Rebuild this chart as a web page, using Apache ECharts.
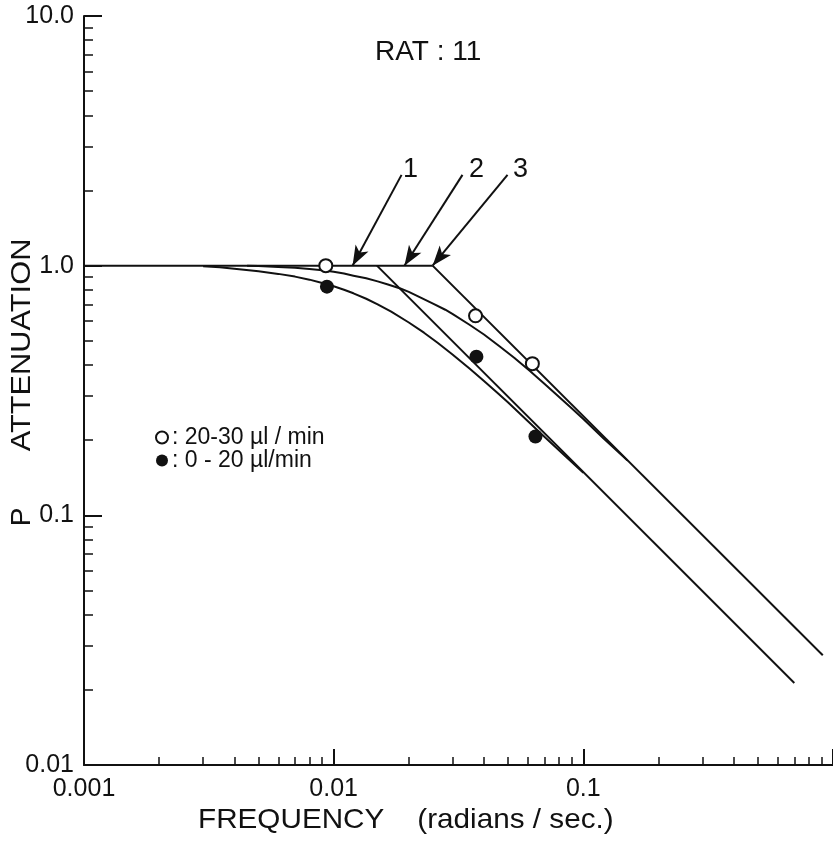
<!DOCTYPE html>
<html>
<head>
<meta charset="utf-8">
<title>RAT : 11 — P attenuation vs frequency</title>
<script src="https://cdn.jsdelivr.net/npm/echarts@6/dist/echarts.min.js"></script>
<style>
  html, body { margin: 0; padding: 0; background: #fff; }
  #chart { width: 833px; height: 844px; }
</style>
</head>
<body>
<div id="chart"></div>
<script>
// values (frequency in rad/s, P attenuation)
const openPoints = [[0.0093, 1.0], [0.037, 0.63], [0.0625, 0.405]]
const filledPoints = [[0.0094, 0.824], [0.0373, 0.432], [0.0643, 0.207]]

// flat part of the asymptotes and the two break lines (1, 2, 3 marks)
const flatLine = [[0.001, 1.0], [0.0249, 1.0]]
const breakLine2 = [[0.0149, 1.0], [0.70, 0.0213]]
const breakLine3 = [[0.0249, 1.0], [0.91, 0.0275]]

// fitted curves
const lowerCurve = [
  [0.003, 0.995], [0.0035, 0.985], [0.004, 0.972], [0.005, 0.949], [0.006, 0.927],
  [0.007, 0.904], [0.008, 0.879], [0.009, 0.853], [0.01, 0.827], [0.011, 0.801],
  [0.012, 0.775], [0.0135, 0.737], [0.015, 0.70], [0.017, 0.654], [0.02, 0.592],
  [0.023, 0.539], [0.026, 0.492], [0.03, 0.44], [0.035, 0.387], [0.04, 0.345],
  [0.045, 0.311], [0.05, 0.283], [0.06, 0.238], [0.07, 0.206], [0.085, 0.172], [0.1, 0.148]
]
const upperCurve = [
  [0.0045, 0.999], [0.005, 0.996], [0.006, 0.988], [0.007, 0.98], [0.008, 0.97],
  [0.009, 0.958], [0.01, 0.945], [0.011, 0.93], [0.012, 0.912], [0.0135, 0.89],
  [0.015, 0.865], [0.0165, 0.84], [0.0185, 0.81], [0.02, 0.785], [0.022, 0.75],
  [0.025, 0.705], [0.028, 0.666], [0.03, 0.64], [0.035, 0.58], [0.04, 0.53],
  [0.046, 0.477], [0.053, 0.427], [0.0608, 0.38], [0.07, 0.336], [0.08, 0.298],
  [0.09, 0.268], [0.1, 0.243], [0.12, 0.204], [0.15, 0.166]
]

// arrows: [start, tip] and their numbers
const arrows = [
  [[0.0187, 2.31], [0.0119, 1.0]],
  [[0.0328, 2.31], [0.0192, 1.0]],
  [[0.0497, 2.31], [0.0249, 1.0]]
]
const arrowLabels = [[0.0203, 2.42, '1'], [0.0373, 2.42, '2'], [0.056, 2.42, '3']]

// axis ticks
const xMajorTicks = [0.001, 0.01, 0.1, 1]
const yMajorTicks = [0.01, 0.1, 1, 10]
const yTickLabels = { '0.01': '0.01', '0.1': '0.1', '1': '1.0', '10': '10.0' }
const minorFactors = [2, 3, 4, 5, 6, 7, 8, 9]

const FONT = 'Liberation Sans'
const INK = '#111'

const minorOf = (majors) => {
  const out = []
  majors.slice(0, -1).forEach(m => minorFactors.forEach(f => out.push(+(m * f).toPrecision(3))))
  return out
}

const chart = echarts.init(document.getElementById('chart'))

const lineSeries = (name, data) => ({
  name,
  type: 'line',
  data,
  symbol: 'none',
  silent: true,
  lineStyle: { color: INK, width: 2, join: 'round' },
  z: 2
})

const logAxis = (min, max, extra) => Object.assign({
  type: 'log',
  logBase: 10,
  min,
  max,
  splitLine: { show: false },
  minorTick: { show: false },
  axisLine: { show: true, onZero: false, lineStyle: { color: INK, width: 2 } }
}, extra)

const option = {
  animation: false,
  backgroundColor: '#fff',
  textStyle: { fontFamily: FONT, color: INK },
  grid: { left: 84, right: 0, top: 16, bottom: 79, outerBoundsMode: 'none' },
  legend: {
    data: [': 20-30 µl / min', ': 0 - 20 µl/min'],
    orient: 'vertical',
    left: 150,
    top: 421,
    itemGap: 0,
    itemWidth: 14,
    itemHeight: 12,
    selectedMode: false,
    textStyle: { fontFamily: FONT, fontSize: 23, color: INK, padding: [0, 0, 0, -2] }
  },
  xAxis: [
    logAxis(0.001, 1, {
      axisTick: { inside: true, length: 16, customValues: xMajorTicks, lineStyle: { color: INK, width: 2 } },
      axisLabel: {
        customValues: xMajorTicks.slice(0, 3),
        margin: 12,
        fontFamily: FONT,
        fontSize: 25,
        color: INK,
        formatter: v => String(+v.toPrecision(3))
      }
    }),
    logAxis(0.001, 1, {
      position: 'bottom',
      axisLine: { show: false },
      axisTick: { inside: true, length: 8, customValues: minorOf(xMajorTicks), lineStyle: { color: INK, width: 1.5 } },
      axisLabel: { show: false }
    })
  ],
  yAxis: [
    logAxis(0.01, 10, {
      axisTick: { inside: true, length: 18, customValues: yMajorTicks, lineStyle: { color: INK, width: 2 } },
      axisLabel: {
        customValues: yMajorTicks,
        margin: 10,
        fontFamily: FONT,
        fontSize: 25,
        color: INK,
        formatter: v => yTickLabels[String(+v.toPrecision(3))] || ''
      }
    }),
    logAxis(0.01, 10, {
      position: 'left',
      axisLine: { show: false },
      axisTick: { inside: true, length: 9, customValues: minorOf(yMajorTicks), lineStyle: { color: INK, width: 1.5 } },
      axisLabel: { show: false }
    })
  ],
  series: [
    lineSeries('flat', flatLine),
    lineSeries('break 2', breakLine2),
    lineSeries('break 3', breakLine3),
    lineSeries('lower curve', lowerCurve),
    lineSeries('upper curve', upperCurve),
    {
      name: ': 20-30 µl / min',
      type: 'scatter',
      data: openPoints,
      symbol: 'circle',
      symbolSize: 13,
      itemStyle: { color: '#fff', borderColor: INK, borderWidth: 2, opacity: 1 },
      z: 5
    },
    {
      name: ': 0 - 20 µl/min',
      type: 'scatter',
      data: filledPoints,
      symbol: 'circle',
      symbolSize: 14,
      itemStyle: { color: INK, opacity: 1 },
      z: 5
    },
    {
      name: 'arrows',
      type: 'line',
      data: [],
      markLine: {
        silent: true,
        symbol: ['none', 'arrow'],
        symbolSize: [11, 20],
        label: { show: false },
        lineStyle: { color: INK, width: 2, type: 'solid' },
        data: arrows.map(a => [{ coord: a[0] }, { coord: a[1] }])
      }
    },
    {
      name: 'arrow numbers',
      type: 'scatter',
      data: arrowLabels,
      symbolSize: 0,
      silent: true,
      itemStyle: { opacity: 1 },
      label: {
        show: true,
        position: 'inside',
        formatter: p => p.data[2],
        fontFamily: FONT,
        fontSize: 27,
        color: INK
      }
    }
  ],
  graphic: [
    {
      type: 'text',
      left: 375,
      top: 38,
      style: { text: 'RAT : 11', font: '28px "Liberation Sans"', fill: INK }
    },
    {
      type: 'text',
      x: 198,
      y: 806,
      scaleX: 1.06,
      style: { text: 'FREQUENCY    (radians / sec.)', font: '28px "Liberation Sans"', fill: INK }
    },
    {
      type: 'text',
      x: 22,
      y: 345,
      rotation: Math.PI / 2,
      scaleX: 1.1,
      style: { text: 'ATTENUATION', font: '28px "Liberation Sans"', fill: INK, align: 'center', verticalAlign: 'middle' }
    },
    {
      type: 'text',
      x: 22,
      y: 517,
      rotation: Math.PI / 2,
      style: { text: 'P', font: '28px "Liberation Sans"', fill: INK, align: 'center', verticalAlign: 'middle' }
    }
  ]
}

chart.setOption(option)
window.addEventListener('resize', () => chart.resize())
</script>
</body>
</html>
